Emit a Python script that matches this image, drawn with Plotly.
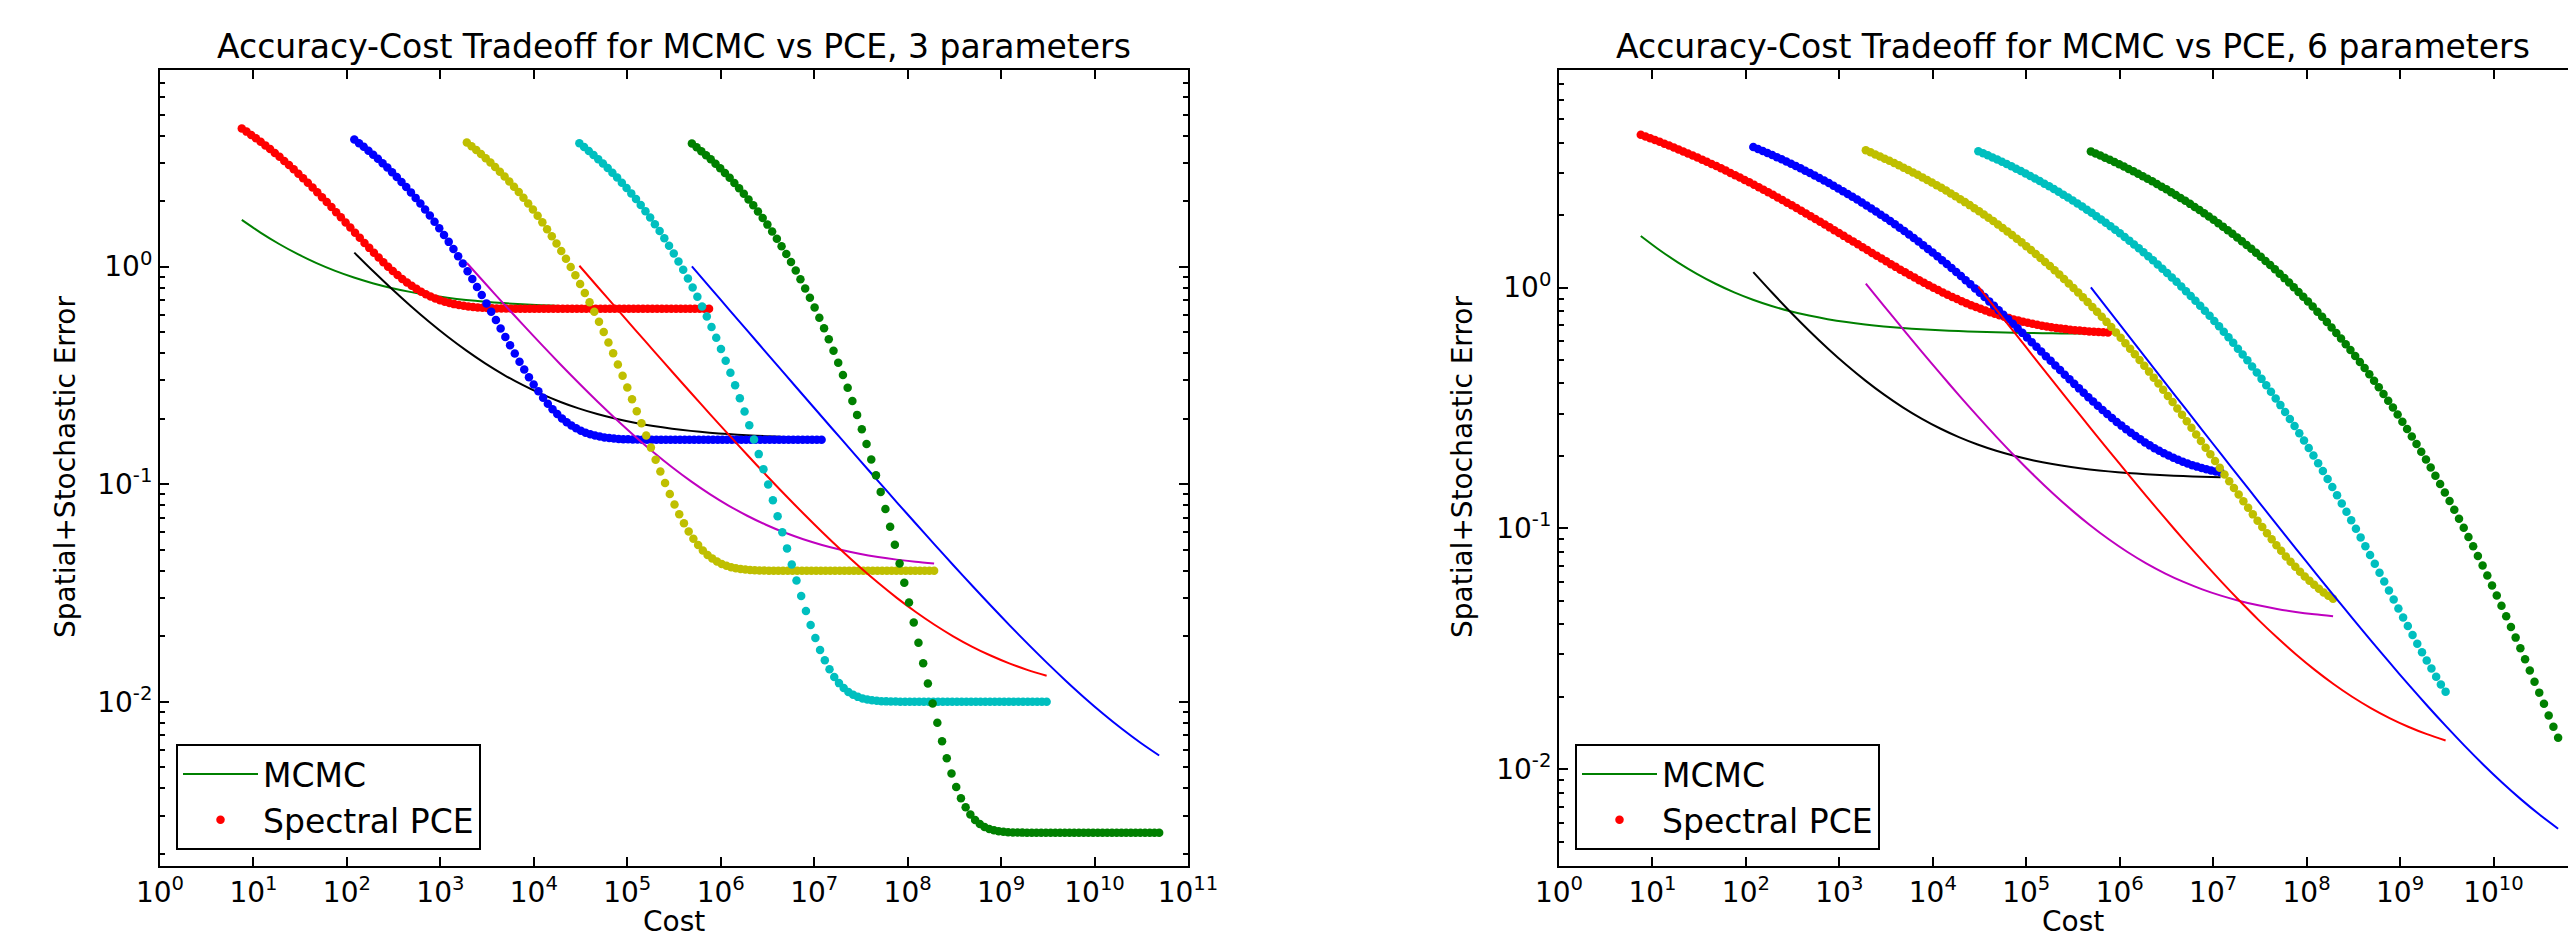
import plotly.graph_objects as go

# ---------------- data ----------------
# cost of one sample on each spatial refinement level
sample_cost = [7.5, 120, 1920, 30720, 491520]
# spatial (discretisation) error on each level = plateau of the curves
spatial_error = [0.64, 0.16, 0.04, 0.01, 0.0025]

# MCMC: number of samples and stochastic error
mcmc_samples = [1, 1.585, 2.512, 3.981, 6.310, 10, 15.85, 25.12, 39.81, 63.10,
                100, 158.5, 251.2, 398.1, 631.0, 1000, 1585, 2512, 3981, 6310,
                10000, 15849, 25119, 39811, 63096, 100000]
mcmc_stochastic_error = [1.0, 0.7943, 0.6310, 0.5012, 0.3981, 0.3162, 0.2512, 0.1995, 0.1585, 0.1259,
                         0.1, 0.07943, 0.06310, 0.05012, 0.03981, 0.03162, 0.02512, 0.01995, 0.01585, 0.01259,
                         0.01, 0.007943, 0.006310, 0.005012, 0.003981, 0.003162]

# Spectral PCE: number of samples (one per dot) and stochastic error
pce_samples = [1, 1.1233, 1.2619, 1.4175, 1.5923, 1.7886, 2.0092, 2.2570, 2.5354, 2.8480,
               3.1993, 3.5938, 4.0370, 4.5349, 5.0941, 5.7224, 6.4281, 7.2208, 8.1113, 9.1116,
               10.235, 11.498, 12.915, 14.508, 16.298, 18.307, 20.565, 23.101, 25.950, 29.150,
               32.745, 36.784, 41.320, 46.416, 52.140, 58.570, 65.793, 73.907, 83.022, 93.260,
               104.76, 117.68, 132.19, 148.49, 166.81, 187.38, 210.49, 236.45, 265.61, 298.36,
               335.16, 376.49, 422.92, 475.08, 533.67, 599.48, 673.42, 756.46, 849.75, 954.55,
               1072.3, 1204.5, 1353.0, 1519.9, 1707.4, 1917.9, 2154.4, 2420.1, 2718.6, 3053.9,
               3430.5, 3853.5, 4328.8, 4862.6, 5462.3, 6135.9, 6892.6, 7742.6, 8697.5, 9770.1,
               10975, 12328, 13849, 15557, 17475, 19630, 22051, 24771, 27826, 31257,
               35112, 39442, 44306, 49770, 55908, 62803, 70548, 79248, 89022, 100000]
pce_stochastic_error_3 = [3.679, 3.536, 3.394, 3.252, 3.111, 2.970, 2.831, 2.694, 2.558, 2.423,
                          2.291, 2.162, 2.035, 1.911, 1.790, 1.672, 1.558, 1.447, 1.341, 1.239,
                          1.140, 1.047, 0.957, 0.873, 0.792, 0.717, 0.646, 0.580, 0.518, 0.461,
                          0.408, 0.3595, 0.3152, 0.2750, 0.2385, 0.2058, 0.1765, 0.1505, 0.1275, 0.1073,
                          0.0897, 0.0744, 0.0613, 0.0502, 0.0407, 0.0327, 0.0261, 0.02063, 0.01616, 0.01253,
                          0.00962, 0.00731, 0.00550, 0.00409, 0.00300, 0.00218, 0.00156, 0.00110, 0.00077, 0.00053,
                          0.000359, 0.000240, 0.000157, 0.000102, 0.0000645, 0.0000402, 0.0000246, 0.0000148, 0.0000087, 0.0000050,
                          0.0000028, 0, 0, 0, 0, 0, 0, 0, 0, 0,
                          0, 0, 0, 0, 0, 0, 0, 0, 0, 0,
                          0, 0, 0, 0, 0, 0, 0, 0, 0, 0]
pce_stochastic_error_6 = [3.679, 3.607, 3.536, 3.465, 3.394, 3.323, 3.252, 3.181, 3.111, 3.040,
                          2.970, 2.901, 2.831, 2.762, 2.694, 2.625, 2.558, 2.490, 2.423, 2.357,
                          2.291, 2.226, 2.162, 2.098, 2.035, 1.972, 1.911, 1.850, 1.790, 1.730,
                          1.672, 1.614, 1.558, 1.502, 1.447, 1.394, 1.341, 1.289, 1.239, 1.189,
                          1.140, 1.093, 1.047, 1.001, 0.957, 0.914, 0.873, 0.832, 0.792, 0.754,
                          0.717, 0.681, 0.646, 0.612, 0.580, 0.548, 0.518, 0.489, 0.461, 0.434,
                          0.408, 0.383, 0.3595, 0.3368, 0.3152, 0.2947, 0.2750, 0.2563, 0.2385, 0.2217,
                          0.2058, 0.1907, 0.1765, 0.1631, 0.1505, 0.1386, 0.1275, 0.1170, 0.1073, 0.0982,
                          0.0897, 0.0818, 0.0744, 0.0676, 0.0613, 0.0555, 0.0502, 0.0452, 0.0407, 0.0365,
                          0.0327, 0.0293, 0.0261, 0.0232, 0.0206, 0.0183, 0.0162, 0.0142, 0.0125, 0.0110]

x_tick_values = [1, 1e1, 1e2, 1e3, 1e4, 1e5, 1e6, 1e7, 1e8, 1e9, 1e10, 1e11]
x_tick_labels = ["10<sup>0</sup>", "10<sup>1</sup>", "10<sup>2</sup>", "10<sup>3</sup>",
                 "10<sup>4</sup>", "10<sup>5</sup>", "10<sup>6</sup>", "10<sup>7</sup>",
                 "10<sup>8</sup>", "10<sup>9</sup>", "10<sup>10</sup>", "10<sup>11</sup>"]
y_tick_values = [1e-2, 1e-1, 1]
y_tick_labels = ["10<sup>-2</sup>", "10<sup>-1</sup>", "10<sup>0</sup>"]
y_minor_values = [0.002, 0.003, 0.004, 0.005, 0.006, 0.007, 0.008, 0.009,
                  0.02, 0.03, 0.04, 0.05, 0.06, 0.07, 0.08, 0.09,
                  0.2, 0.3, 0.4, 0.5, 0.6, 0.7, 0.8, 0.9,
                  2, 3, 4, 5, 6, 7, 8, 9]
panel_titles = ["Accuracy-Cost Tradeoff for MCMC vs PCE, 3 parameters",
                "Accuracy-Cost Tradeoff for MCMC vs PCE, 6 parameters"]
x_title = "Cost"
y_title = "Spatial+Stochastic Error"
legend_names = ["MCMC", "Spectral PCE"]

# ---------------- styles ----------------
mcmc_colors = ["#008000", "#000000", "#BF00BF", "#FF0000", "#0000FF"]
pce_colors = ["#FF0000", "#0000FF", "#BFBF00", "#00BFBF", "#008000"]
FONT = "DejaVu Sans"
W, H = 2568, 938

fig = go.Figure()
panels = [("x", "y", "legend", pce_stochastic_error_3),
          ("x2", "y2", "legend2", pce_stochastic_error_6)]
for xa, ya, lg, pce_err in panels:
    for lev in range(5):
        fig.add_trace(go.Scatter(
            x=[sample_cost[lev] * n for n in mcmc_samples],
            y=[spatial_error[lev] + e for e in mcmc_stochastic_error],
            mode="lines", line=dict(color=mcmc_colors[lev], width=2, shape="spline", smoothing=0.8),
            name=legend_names[0], showlegend=(lev == 0), legend=lg,
            xaxis=xa, yaxis=ya, hoverinfo="skip"))
        fig.add_trace(go.Scatter(
            x=[sample_cost[lev] * n for n in pce_samples],
            y=[spatial_error[lev] + e for e in pce_err],
            mode="markers", marker=dict(color=pce_colors[lev], size=8.5, line=dict(width=0)),
            name=legend_names[1], showlegend=(lev == 0), legend=lg,
            xaxis=xa, yaxis=ya, hoverinfo="skip"))

ydom = [(H - 866) / H, (H - 70) / H]
tickfont = dict(family=FONT, size=28, color="black")
common_axis = dict(type="log", showgrid=False, zeroline=False, showline=True, automargin=False,
                   linecolor="black", linewidth=2, ticks="inside", ticklen=9,
                   tickwidth=1.5, tickcolor="black", tickfont=tickfont, tickmode="array")

xaxis_left = dict(common_axis, domain=[160 / W, 1188 / W], range=[0, 11], mirror="ticks",
                  tickvals=x_tick_values, ticktext=x_tick_labels, anchor="y")
xaxis_right = dict(common_axis, domain=[1559 / W, 1.0], range=[0, (W - 1559) / 93.45], mirror="ticks",
                   tickvals=x_tick_values, ticktext=x_tick_labels, anchor="y2")
yminor = dict(ticks="inside", ticklen=5, tickwidth=1.5, tickcolor="black", tickvals=y_minor_values, showgrid=False)
yaxis_left = dict(common_axis, domain=ydom, range=[-2.755, 0.904], mirror="ticks",
                  tickvals=y_tick_values, ticktext=y_tick_labels, anchor="x", minor=yminor)
yaxis_right = dict(common_axis, domain=ydom, range=[-2.402, 0.904], mirror=False,
                   tickvals=y_tick_values, ticktext=y_tick_labels, anchor="x2", minor=yminor)

legend_style = dict(font=dict(family=FONT, size=33, color="black"), bgcolor="white",
                    bordercolor="black", borderwidth=2, xanchor="left", yanchor="bottom",
                    itemwidth=75, tracegroupgap=0)

annotations = []
for cx, ylx, title in [(674, 65, panel_titles[0]), (2073, 1462, panel_titles[1])]:
    annotations.append(dict(text=title, x=cx / W, y=1 - 46 / H, xref="paper", yref="paper",
                            xanchor="center", yanchor="middle", showarrow=False,
                            font=dict(family=FONT, size=33, color="black")))
    annotations.append(dict(text=x_title, x=cx / W, y=1 - 921 / H, xref="paper", yref="paper",
                            xanchor="center", yanchor="middle", showarrow=False,
                            font=dict(family=FONT, size=28, color="black")))
    annotations.append(dict(text=y_title, x=ylx / W, y=1 - 467 / H, xref="paper", yref="paper",
                            xanchor="center", yanchor="middle", showarrow=False, textangle=-90,
                            font=dict(family=FONT, size=28, color="black")))

fig.update_layout(
    width=W, height=H, margin=dict(l=0, r=0, t=0, b=0, pad=0, autoexpand=False),
    paper_bgcolor="white", plot_bgcolor="white",
    font=dict(family=FONT, color="black"),
    xaxis=xaxis_left, xaxis2=xaxis_right, yaxis=yaxis_left, yaxis2=yaxis_right,
    legend=dict(legend_style, x=176 / W, y=(H - 850) / H),
    legend2=dict(legend_style, x=1575 / W, y=(H - 850) / H),
    annotations=annotations, hovermode=False,
)

fig.write_html(
    "out.html",
    config={"displayModeBar": False},
    post_script="document.body.style.margin='0px';document.body.style.overflow='hidden';",
)
